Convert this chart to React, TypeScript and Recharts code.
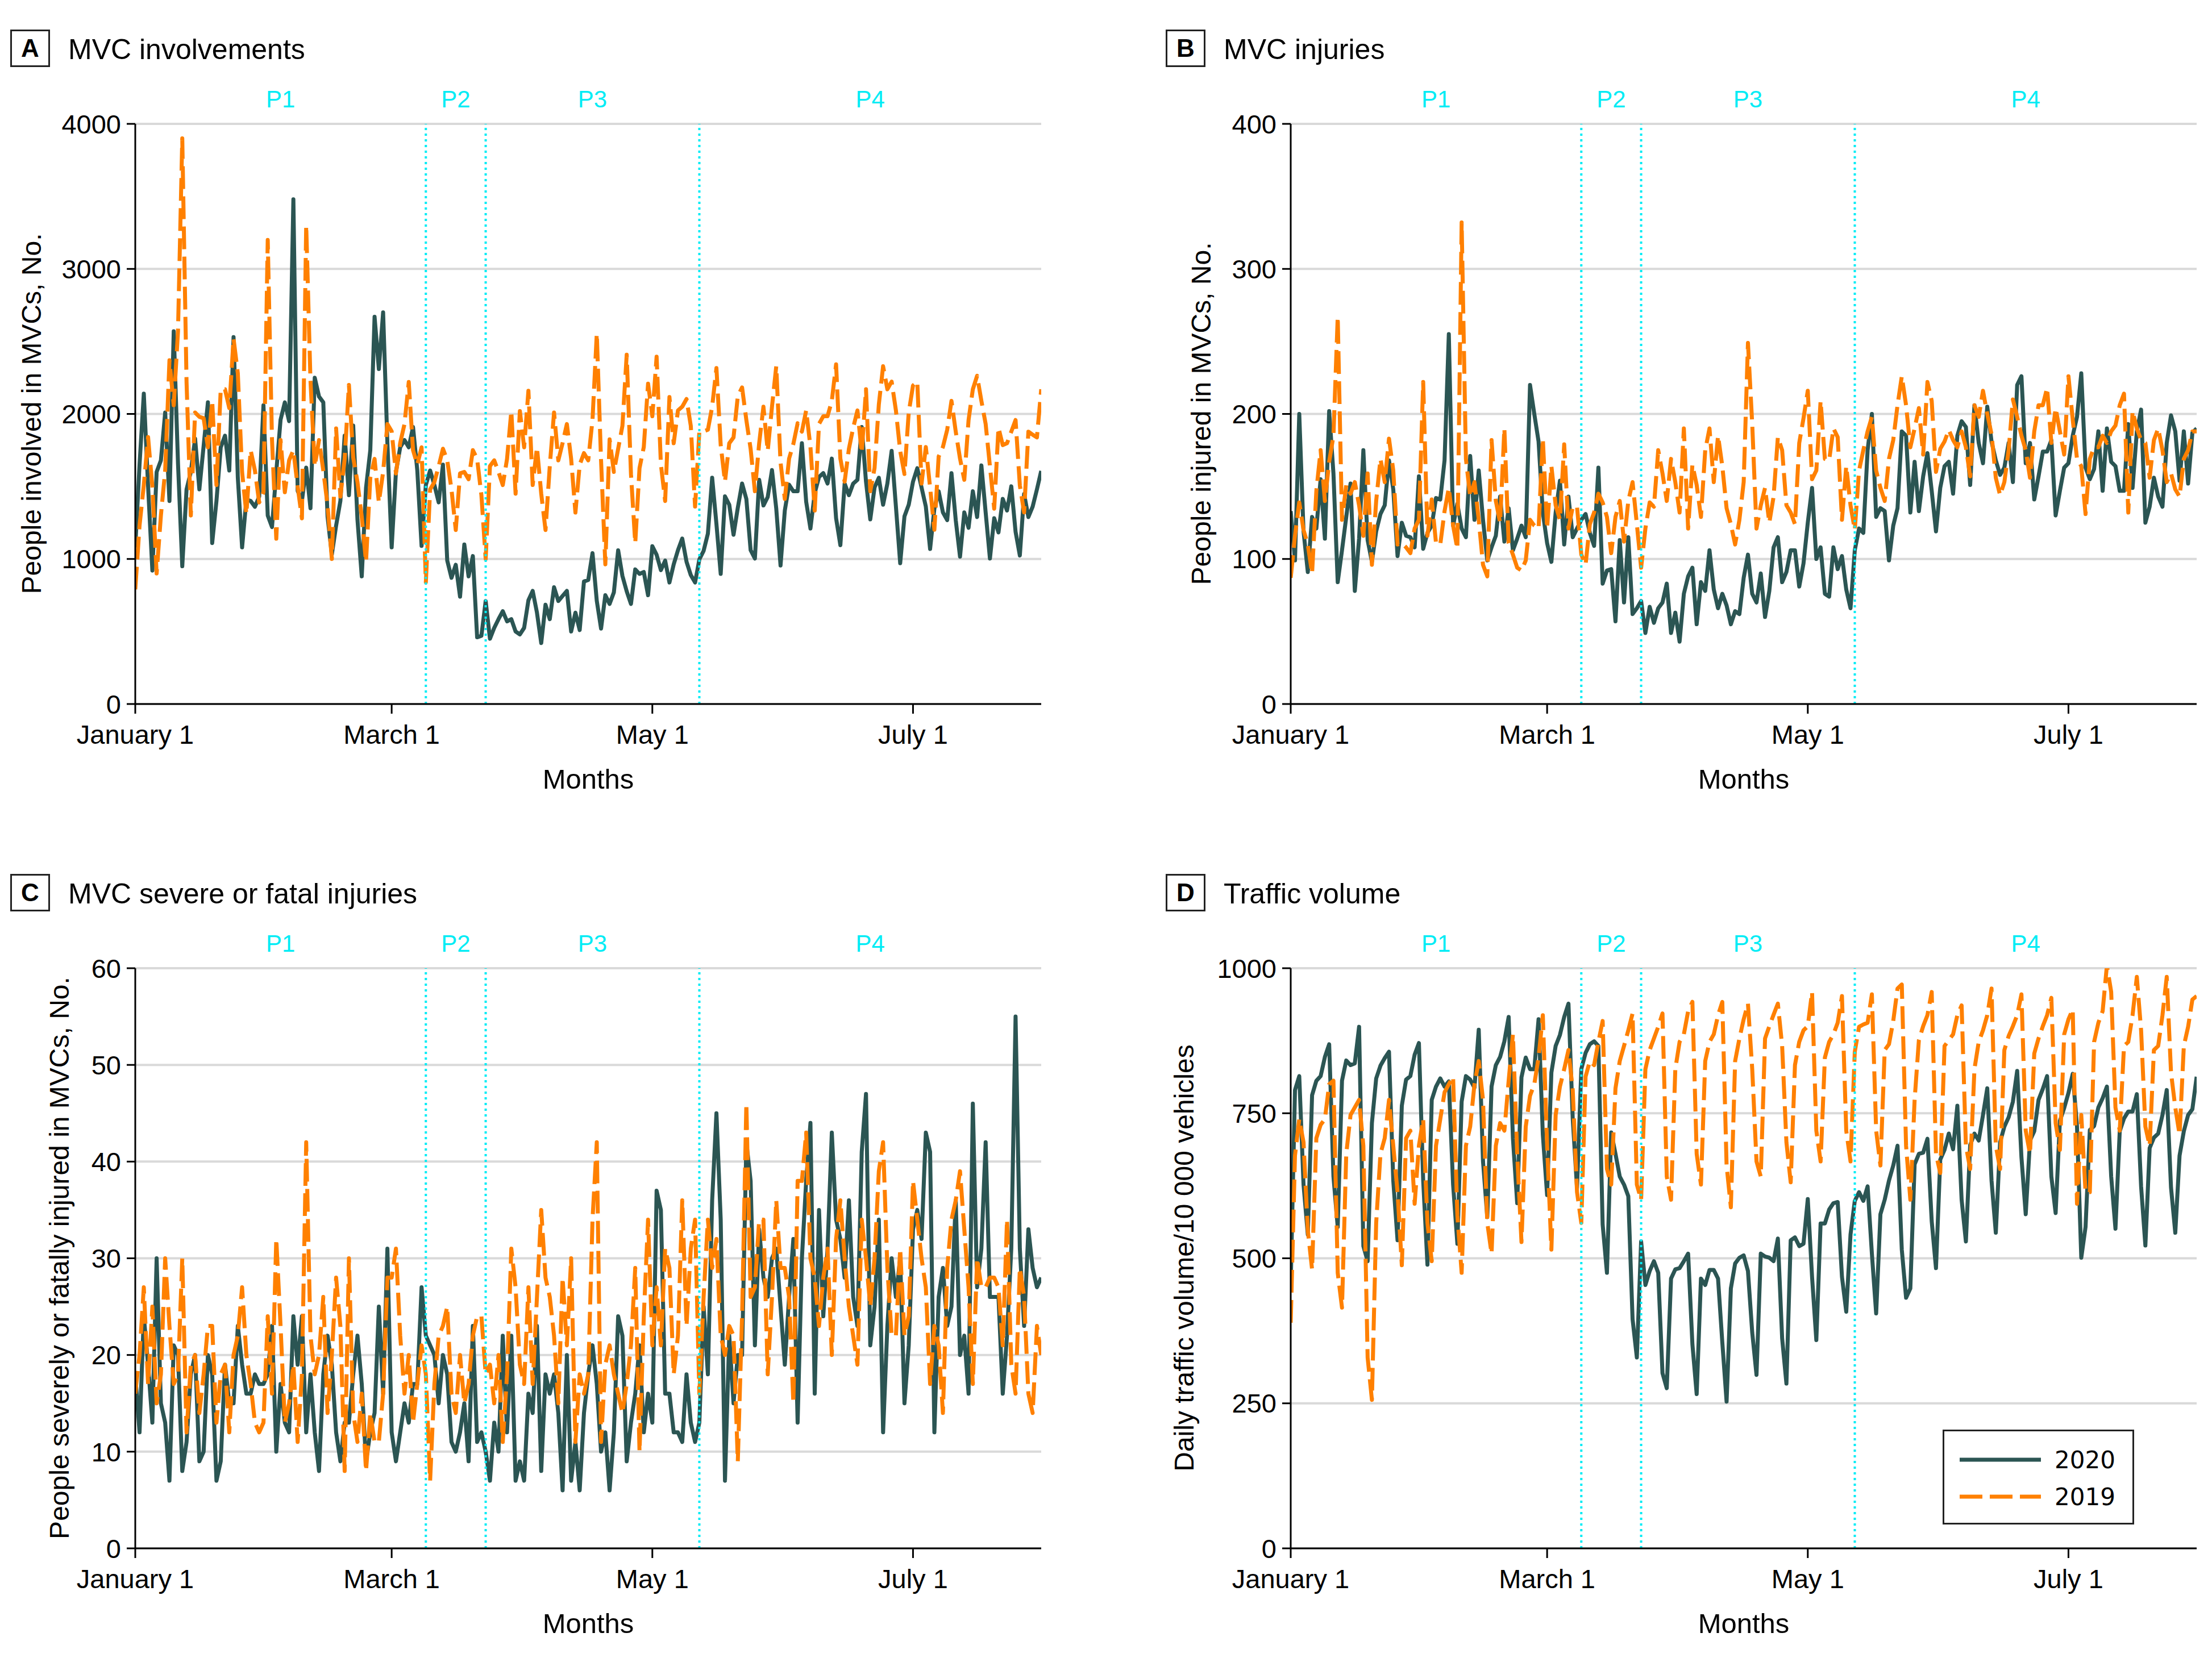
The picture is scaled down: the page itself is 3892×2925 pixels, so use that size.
import {
  CartesianGrid,
  Label,
  Line,
  LineChart,
  ReferenceArea,
  ReferenceLine,
  XAxis,
  YAxis,
} from "recharts";

// day index 0 = January 1; ticks on the first day of each odd month
const dayTicks = [0, 60, 121, 182];
const dayTickLabels = ["January 1", "March 1", "May 1", "July 1"];
const lastDay = 212;
const periodBounds = [68, 82, 132];
const periodNames = ["P1", "P2", "P3", "P4"];

const involvements2020 = [
  1080, 1650, 2140, 1500, 920, 1600, 1680, 2010, 1400, 2570,
  1660, 950, 1480, 1600, 1830, 1480, 1780, 2080, 1110, 1400,
  1770, 1850, 1610, 2530, 1560, 1080, 1410, 1400, 1360, 1430,
  2060, 1300, 1220, 1600, 1960, 2080, 1950, 3480, 1470, 1400,
  1630, 1350, 2250, 2120, 2080, 1290, 1030, 1230, 1400, 1850,
  1440, 1920, 1270, 880, 1490, 1750, 2670, 2310, 2700, 1800,
  1080, 1600, 1770, 1820, 1770, 1910, 1610, 1090, 1510, 1610,
  1510, 1390, 1650, 990, 870, 960, 740, 1100, 880, 1020,
  460, 470, 710, 450, 525, 585, 640, 570, 585, 500,
  480, 525, 715, 780, 630, 420, 685, 585, 805, 710,
  745, 780, 500, 630, 510, 845, 855, 1040, 711, 520,
  750, 690, 770, 1060, 883, 777, 690, 928, 897, 910,
  750, 1088, 1029, 923, 989, 838, 963, 1061, 1141, 981,
  889, 838, 997, 1056, 1175, 1560, 1241, 897, 1432, 1374,
  1167, 1353, 1520, 1414, 1061, 1003, 1546, 1369, 1427, 1613,
  1347, 955, 1334, 1512, 1467, 1467, 1798, 1395, 1210, 1454,
  1565, 1592, 1520, 1692, 1281, 1095, 1520, 1440, 1520, 1546,
  1910, 1533, 1273, 1493, 1560, 1374, 1520, 1745, 1361, 971,
  1294, 1374, 1533, 1626, 1493, 1361, 1069, 1347, 1467, 1321,
  1268, 1592, 1268, 1016, 1321, 1215, 1467, 1289, 1645, 1321,
  1003, 1281, 1183, 1414, 1334, 1501, 1188, 1024, 1448, 1289,
  1361, 1480, 1607,
];

const involvements2019 = [
  790, 1230, 1510, 1840, 1500, 900, 1300, 1610, 2370, 2060,
  2570, 3900, 2220, 1300, 2010, 1980, 1970, 1770, 2090, 1510,
  2170, 2170, 2040, 2520, 2280, 1600, 1310, 1750, 1610, 1390,
  1460, 3200, 1820, 1140, 1820, 1460, 1680, 1750, 1500, 1280,
  3300, 2230, 1640, 1820, 1610, 1370, 1000, 1900, 1430, 1690,
  2200, 1700, 1530, 1290, 980, 1560, 1690, 1390, 1600, 1930,
  1880, 1590, 1800, 1930, 2220, 1750, 1650, 1770, 840, 1480,
  1530, 1640, 1760, 1680, 1480, 1200, 1590, 1600, 1550, 1750,
  1690, 1440, 1000, 1640, 1680, 1600, 1510, 1690, 2020, 1450,
  2020, 1770, 2160, 1510, 1770, 1450, 1200, 1640, 2010, 1680,
  1800, 1930, 1690, 1320, 1650, 1730, 1680, 1960, 2554, 1679,
  963, 1825, 1600, 1760, 1918, 2408, 1586, 1109, 1626, 1772,
  2209, 1984, 2395, 1653, 1400, 2117, 1798, 2024, 2050, 2103,
  1918, 1361, 1878, 1880, 1891, 2050, 2316, 1785, 1533, 1798,
  1838, 2122, 2183, 1958, 1759, 1467, 1798, 2050, 1745, 2050,
  2329, 1666, 1414, 1692, 1793, 1936, 1878, 2024, 1772, 1334,
  1931, 1984, 1984, 2090, 2342, 1692, 1533, 1759, 1905, 2024,
  1732, 2170, 1467, 1626, 2064, 2329, 2170, 2223, 2024, 1745,
  1586, 2010, 2196, 2223, 1520, 1772, 1493, 1202, 1706, 1772,
  1891, 2090, 1878, 1692, 1546, 1958, 2170, 2263, 2090, 1931,
  1639, 1347, 1905, 1785, 1798, 1878, 1958, 1507, 1321, 1878,
  1857, 1838, 2170,
];

const injuries2020 = [
  133, 99, 200, 119, 91, 129, 121, 155, 114, 202,
  159, 84, 106, 129, 152, 78, 114, 175, 113, 98,
  119, 131, 137, 168, 148, 102, 125, 116, 115, 108,
  157, 107, 118, 123, 142, 141, 168, 255, 123, 138,
  121, 115, 171, 127, 161, 127, 99, 108, 116, 143,
  112, 135, 106, 114, 123, 115, 220, 200, 181, 132,
  111, 98, 132, 154, 110, 143, 115, 121, 127, 131,
  118, 109, 163, 83, 92, 93, 57, 113, 70, 115,
  62, 66, 71, 49, 67, 56, 66, 70, 83, 49,
  63, 43, 76, 88, 94, 55, 84, 78, 106, 79,
  66, 76, 68, 55, 64, 62, 87, 103, 76, 70,
  90, 60, 78, 108, 115, 84, 91, 106, 106, 81,
  97, 125, 149, 100, 108, 76, 74, 108, 93, 102,
  79, 66, 106, 121, 118, 175, 200, 129, 135, 133,
  99, 123, 135, 188, 185, 132, 167, 133, 157, 173,
  147, 119, 149, 164, 167, 145, 185, 195, 191, 151,
  206, 180, 166, 205, 181, 168, 158, 163, 180, 153,
  220, 226, 166, 180, 141, 157, 174, 174, 182, 130,
  147, 163, 166, 185, 198, 228, 163, 155, 162, 188,
  147, 190, 167, 164, 147, 147, 193, 149, 188, 203,
  125, 136, 156, 143, 136, 180, 199, 188, 154, 188,
  152, 187, 190,
];

const injuries2019 = [
  87, 116, 139, 120, 110, 90, 147, 175, 140, 167,
  185, 267, 127, 151, 145, 153, 137, 116, 159, 96,
  140, 169, 153, 183, 161, 110, 111, 108, 104, 121,
  127, 222, 116, 141, 111, 110, 133, 149, 123, 107,
  332, 169, 143, 153, 127, 96, 88, 182, 140, 125,
  190, 111, 103, 94, 92, 99, 127, 123, 121, 183,
  121, 164, 137, 127, 179, 121, 136, 136, 103, 96,
  124, 132, 145, 139, 129, 104, 129, 140, 112, 140,
  153, 124, 94, 121, 139, 136, 175, 159, 140, 169,
  153, 132, 190, 121, 165, 151, 129, 175, 190, 153,
  185, 164, 135, 124, 110, 127, 153, 249, 193, 121,
  137, 149, 125, 143, 184, 175, 137, 132, 124, 180,
  197, 216, 155, 161, 209, 169, 168, 190, 184, 127,
  164, 137, 120, 161, 175, 188, 198, 161, 149, 140,
  169, 182, 206, 226, 206, 177, 190, 204, 172, 222,
  209, 160, 176, 181, 189, 182, 177, 188, 177, 157,
  206, 198, 216, 200, 186, 156, 144, 153, 175, 210,
  198, 185, 175, 156, 188, 206, 206, 218, 180, 204,
  188, 172, 226, 196, 169, 164, 131, 169, 177, 177,
  185, 180, 188, 192, 206, 214, 132, 202, 190, 182,
  180, 156, 182, 190, 175, 153, 159, 148, 143, 169,
  175, 188, 188,
];

const severe2020 = [
  18, 12, 24, 19, 13, 30, 15, 13, 7, 21,
  20, 8, 11, 18, 20, 9, 10, 20, 18, 7,
  9, 19, 15, 15, 23, 19, 16, 16, 18, 17,
  17, 18, 23, 10, 17, 13, 12, 24, 19, 24,
  12, 18, 12, 8, 18, 22, 19, 12, 9, 13,
  13, 18, 22, 17, 9, 12, 14, 25, 16, 31,
  12, 9, 12, 15, 13, 17, 17, 27, 22, 21,
  20, 15, 20, 18, 11, 10, 12, 15, 9, 23,
  11, 12, 10, 7, 13, 10, 22, 12, 22, 7,
  9, 7, 16, 14, 23, 8, 18, 16, 18, 14,
  6, 20, 7, 11, 6, 14, 18, 21, 17, 10,
  12, 6, 12, 24, 22, 9, 13, 16, 21, 12,
  16, 13, 37, 35, 16, 16, 12, 12, 11, 18,
  13, 11, 13, 25, 18, 36, 45, 34, 7, 22,
  15, 20, 20, 42, 38, 21, 33, 28, 26, 30,
  31, 25, 19, 26, 32, 13, 30, 38, 44, 16,
  35, 24, 31, 43, 34, 32, 28, 36, 26, 23,
  41, 47, 21, 25, 34, 12, 23, 30, 26, 30,
  15, 21, 33, 35, 32, 43, 41, 12, 26, 29,
  23, 25, 36, 20, 22, 16, 46, 27, 31, 42,
  26, 26, 26, 16, 22, 31, 55, 31, 23, 33,
  29, 27, 28,
];

const severe2019 = [
  16, 20, 27, 17, 25, 15, 18, 30, 23, 17,
  18, 30, 12, 19, 20, 14, 18, 23, 23, 13,
  18, 19, 12, 20, 22, 27, 20, 17, 13, 12,
  13, 24, 16, 32, 23, 13, 15, 19, 11, 18,
  42, 22, 18, 20, 26, 14, 20, 28, 23, 8,
  30, 14, 11, 16, 8, 14, 11, 11, 16, 28,
  28, 31, 22, 16, 20, 13, 17, 21, 18, 7,
  17, 22, 23, 25, 16, 14, 20, 15, 17, 22,
  24, 24, 18, 19, 15, 20, 11, 18, 31, 27,
  19, 17, 27, 17, 26, 35, 28, 26, 22, 15,
  28, 21, 30, 11, 18, 16, 18, 34, 42, 11,
  19, 21, 18, 16, 14, 17, 21, 29, 10, 24,
  34, 21, 27, 21, 31, 29, 18, 22, 36, 23,
  31, 34, 16, 26, 34, 29, 32, 22, 20, 23,
  22, 9, 24, 46, 26, 27, 34, 34, 18, 26,
  36, 29, 29, 26, 15, 38, 38, 43, 30, 28,
  23, 28, 31, 20, 32, 36, 30, 25, 22, 19,
  34, 30, 25, 30, 39, 42, 29, 22, 22, 31,
  22, 24, 38, 34, 30, 27, 17, 23, 21, 14,
  29, 34, 36, 39, 33, 27, 17, 30, 27, 27,
  28, 28, 27, 21, 34, 19, 16, 29, 26, 16,
  14, 23, 20,
];

const traffic2020 = [
  455, 790, 814, 627, 541, 781, 806, 814, 847, 869,
  641, 554, 806, 841, 833, 836, 899, 521, 495, 733,
  810, 832, 845, 856, 634, 531, 763, 808, 814, 851,
  871, 634, 489, 773, 796, 810, 796, 805, 627, 525,
  770, 814, 808, 794, 894, 667, 571, 796, 833, 847,
  874, 916, 707, 595, 812, 846, 826, 826, 912, 713,
  609, 820, 866, 885, 916, 939, 740, 621, 826, 854,
  869, 874, 866, 558, 475, 717, 680, 641, 627, 607,
  395, 329, 529, 454, 478, 495, 475, 302, 276, 465,
  481, 483, 495, 508, 352, 266, 465, 454, 480, 480,
  465, 355, 253, 448, 491, 501, 505, 478, 372, 299,
  508, 503, 501, 495, 534, 362, 284, 531, 536, 521,
  525, 602, 468, 359, 560, 560, 584, 595, 597, 468,
  408, 541, 599, 614, 599, 624, 508, 405, 576, 601,
  634, 660, 694, 515, 432, 448, 662, 680, 682, 706,
  564, 483, 670, 687, 715, 688, 763, 601, 529, 695,
  715, 703, 747, 793, 634, 544, 700, 727, 743, 770,
  823, 674, 576, 703, 719, 773, 792, 814, 641, 578,
  737, 759, 785, 818, 727, 501, 554, 721, 728, 760,
  776, 796, 641, 551, 719, 741, 753, 753, 783, 624,
  522, 690, 708, 715, 747, 790, 622, 544, 677, 719,
  747, 757, 813,
];

const traffic2019 = [
  389, 677, 740, 700, 548, 481, 707, 730, 740, 800,
  806, 475, 415, 680, 747, 760, 773, 694, 329, 256,
  561, 680, 707, 773, 694, 614, 488, 707, 720, 594,
  694, 740, 561, 495, 694, 740, 786, 800, 813, 574,
  475, 694, 727, 800, 840, 773, 561, 508, 694, 733,
  720, 806, 886, 680, 528, 727, 780, 800, 846, 919,
  694, 515, 747, 796, 826, 859, 790, 614, 561, 813,
  840, 833, 873, 909, 654, 627, 793, 840, 866, 893,
  922, 627, 601, 826, 859, 879, 899, 922, 641, 601,
  826, 873, 886, 926, 942, 680, 627, 840, 873, 886,
  919, 942, 660, 588, 840, 879, 912, 939, 826, 667,
  641, 879, 900, 920, 939, 866, 700, 631, 833, 873,
  893, 900, 959, 720, 667, 846, 873, 886, 906, 952,
  720, 667, 856, 899, 903, 906, 955, 720, 660, 859,
  869, 909, 965, 972, 694, 601, 773, 876, 900, 919,
  959, 680, 647, 866, 876, 886, 919, 936, 694, 654,
  826, 873, 893, 919, 965, 694, 654, 859, 883, 900,
  919, 955, 720, 680, 853, 879, 900, 919, 949, 733,
  687, 886, 912, 929, 594, 747, 614, 614, 873, 906,
  926, 1005, 959, 760, 720, 866, 873, 919, 985, 893,
  727, 694, 859, 866, 919, 985, 820, 760, 713, 866,
  899, 946, 952,
];

const COLOR_2020 = "#2b5553";
const COLOR_2019 = "#ff8000";
const CYAN = "#00ecf5";
const DASH = "40 13";

const CHART_W = 1850;
const CHART_H = 1430;
const FONT = '"Liberation Sans", Arial, sans-serif';

interface PanelProps {
  left: number;
  top: number;
  letter: string;
  title: string;
  yLabel: string;
  yLabelX: number;
  yMax: number;
  yTicks: number[];
  s2020: number[];
  s2019: number[];
  showLegend?: boolean;
}

function Legend2() {
  return (
    <div
      style={{
        position: "absolute",
        left: 1385,
        top: 1030,
        width: 337,
        height: 167,
        border: "3px solid #222",
        boxSizing: "border-box",
        background: "#fff",
        fontFamily: '"DejaVu Sans", sans-serif',
        fontSize: 42,
      }}
    >
      <svg width={170} height={167} style={{ position: "absolute", left: 0, top: 0 }}>
        <line x1={27} x2={175} y1={50} y2={50} stroke={COLOR_2020} strokeWidth={7} />
        <line x1={27} x2={175} y1={115} y2={115} stroke={COLOR_2019} strokeWidth={7} strokeDasharray={DASH} />
      </svg>
      <div style={{ position: "absolute", left: 194, top: 50, transform: "translateY(-50%)" }}>2020</div>
      <div style={{ position: "absolute", left: 194, top: 115, transform: "translateY(-50%)" }}>2019</div>
    </div>
  );
}

function Panel(p: PanelProps) {
  const rows = p.s2020.map((v, i) => ({ day: i, y2020: v, y2019: p.s2019[i] }));
  const edges = [0, ...periodBounds, lastDay];

  return (
    <div style={{ position: "absolute", left: p.left, top: p.top, width: CHART_W, height: CHART_H }}>
      <LineChart
        width={CHART_W}
        height={CHART_H}
        data={rows}
        margin={{ top: 218, right: CHART_W - 1832, bottom: CHART_H - 1239 - 100, left: 88 }}
      >
        <CartesianGrid vertical={false} stroke="#d9d9d9" strokeWidth={4} />
        <XAxis
          dataKey="day"
          type="number"
          domain={[0, lastDay]}
          ticks={dayTicks}
          interval={0}
          allowDataOverflow
          tickFormatter={(v: number) => dayTickLabels[dayTicks.indexOf(v)]}
          height={100}
          tickSize={17}
          tickMargin={20}
          stroke="#000"
          strokeWidth={3}
          tick={{ fontSize: 47, fill: "#000" }}
        >
          <Label value="Months" position="bottom" offset={14} style={{ fontSize: 49, fill: "#000" }} />
        </XAxis>
        <YAxis
          type="number"
          domain={[0, p.yMax]}
          ticks={p.yTicks}
          interval={0}
          allowDataOverflow
          width={150}
          tickSize={15}
          tickMargin={10}
          stroke="#000"
          strokeWidth={3}
          tick={{ fontSize: 47, fill: "#000" }}
        />
        {periodNames.map((name, i) => (
          <ReferenceArea
            key={name}
            x1={edges[i]}
            x2={edges[i + 1]}
            fill="none"
            fillOpacity={0}
            strokeWidth={0}
            label={{ value: name, position: "top", offset: 29, fill: CYAN, fontSize: 42 }}
          />
        ))}
        <Line
          dataKey="y2020"
          stroke={COLOR_2020}
          strokeWidth={7}
          strokeLinejoin="round"
          dot={false}
          activeDot={false}
          isAnimationActive={false}
        />
        <Line
          dataKey="y2019"
          stroke={COLOR_2019}
          strokeWidth={7}
          strokeDasharray={DASH}
          strokeLinejoin="round"
          dot={false}
          activeDot={false}
          isAnimationActive={false}
        />
        {periodBounds.map((b) => (
          <ReferenceLine key={b} x={b} stroke={CYAN} strokeWidth={4} strokeDasharray="4 6" />
        ))}
      </LineChart>

      <div
        style={{
          position: "absolute",
          left: 18,
          top: 52,
          width: 70,
          height: 66,
          border: "3px solid #222",
          boxSizing: "border-box",
          display: "flex",
          alignItems: "center",
          justifyContent: "center",
          fontWeight: "bold",
          fontSize: 44,
        }}
      >
        {p.letter}
      </div>
      <div style={{ position: "absolute", left: 120, top: 87, transform: "translateY(-50%)", fontSize: 50 }}>
        {p.title}
      </div>
      <div
        style={{
          position: "absolute",
          left: p.yLabelX,
          top: 728,
          transform: "translate(-50%, -50%) rotate(-90deg)",
          whiteSpace: "nowrap",
          fontSize: 48,
        }}
      >
        {p.yLabel}
      </div>
      {p.showLegend ? <Legend2 /> : null}
    </div>
  );
}

export default function App() {
  return (
    <div
      style={{
        position: "absolute",
        left: 0,
        top: 0,
        width: 3892,
        height: 2925,
        overflow: "hidden",
        background: "#fff",
        fontFamily: FONT,
        color: "#000",
      }}
    >
      <Panel
        left={0}
        top={0}
        letter="A"
        title="MVC involvements"
        yLabel="People involved in MVCs, No."
        yLabelX={55}
        yMax={4000}
        yTicks={[0, 1000, 2000, 3000, 4000]}
        s2020={involvements2020}
        s2019={involvements2019}
      />
      <Panel
        left={2033}
        top={0}
        letter="B"
        title="MVC injuries"
        yLabel="People injured in MVCs, No."
        yLabelX={80}
        yMax={400}
        yTicks={[0, 100, 200, 300, 400]}
        s2020={injuries2020}
        s2019={injuries2019}
      />
      <Panel
        left={0}
        top={1486}
        letter="C"
        title="MVC severe or fatal injuries"
        yLabel="People severely or fatally injured in MVCs, No."
        yLabelX={104}
        yMax={60}
        yTicks={[0, 10, 20, 30, 40, 50, 60]}
        s2020={severe2020}
        s2019={severe2019}
      />
      <Panel
        left={2033}
        top={1486}
        letter="D"
        title="Traffic volume"
        yLabel="Daily traffic volume/10 000 vehicles"
        yLabelX={50}
        yMax={1000}
        yTicks={[0, 250, 500, 750, 1000]}
        s2020={traffic2020}
        s2019={traffic2019}
        showLegend
      />
    </div>
  );
}
